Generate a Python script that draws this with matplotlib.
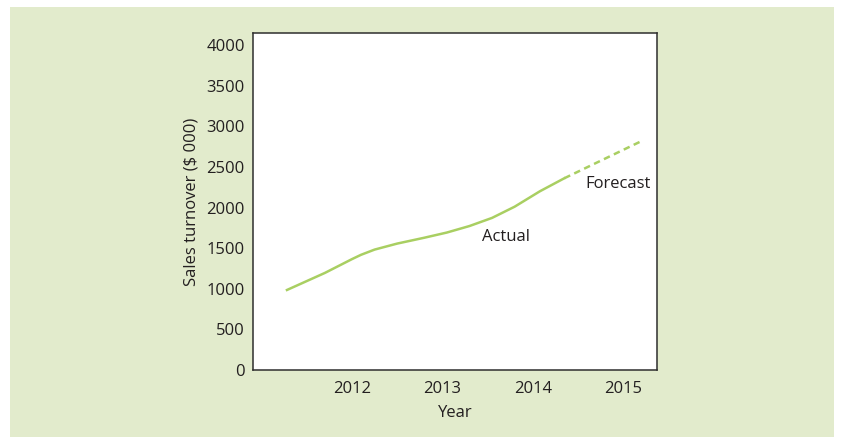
import matplotlib.pyplot as plt
from matplotlib.patches import Rectangle

# actual sales turnover ($000)
actual_years = [2011.28, 2011.7, 2012.0, 2012.1, 2012.25, 2012.5, 2012.8, 2013.05,
                2013.3, 2013.55, 2013.8, 2014.08, 2014.35]
actual_sales = [985, 1195, 1365, 1418, 1482, 1556, 1628, 1692,
                1772, 1872, 2010, 2200, 2360]

forecast_years = [2014.35, 2015.19]
forecast_sales = [2360, 2810]

year_ticks = [2012, 2013, 2014, 2015]
sales_ticks = [0, 500, 1000, 1500, 2000, 2500, 3000, 3500, 4000]

line_color = '#a9cf62'
panel_color = '#e2ebcc'
text_color = '#231f20'

plt.rcParams['font.family'] = ['Open Sans', 'DejaVu Sans']

fig = plt.figure(figsize=(8.44, 4.44), dpi=100)
fig.patch.set_facecolor('white')
fig.patches.append(Rectangle((10 / 844, 7.5 / 444), 824 / 844, 429 / 444,
                             transform=fig.transFigure, facecolor=panel_color,
                             edgecolor='none', zorder=-10))

ax = fig.add_axes([253 / 844, 74 / 444, 404 / 844, 337 / 444])
ax.set_facecolor('white')

ax.plot(actual_years, actual_sales, color=line_color, lw=1.8)
ax.plot(forecast_years, forecast_sales, color=line_color, lw=1.8, dashes=(2.6, 1.8))

ax.text(2013.71, 1640, 'Actual', fontsize=12, color=text_color, ha='center', va='center')
ax.text(2014.95, 2290, 'Forecast', fontsize=12, color=text_color, ha='center', va='center')

ax.set_xlim(2010.904, 2015.376)
ax.set_ylim(0, 4148)
ax.set_xticks(year_ticks)
ax.set_yticks(sales_ticks)
ax.tick_params(length=0, labelsize=12, labelcolor=text_color)
ax.tick_params(axis='x', pad=8)
ax.tick_params(axis='y', pad=6)

for s in ax.spines.values():
    s.set_color('#2e2e2e')
    s.set_linewidth(1.1)

ax.set_xlabel('Year', fontsize=12, color=text_color, labelpad=6)
ax.set_ylabel('Sales turnover ($ 000)', fontsize=12, color=text_color, labelpad=5)

fig.savefig('out.png', dpi=100, facecolor=fig.get_facecolor())
